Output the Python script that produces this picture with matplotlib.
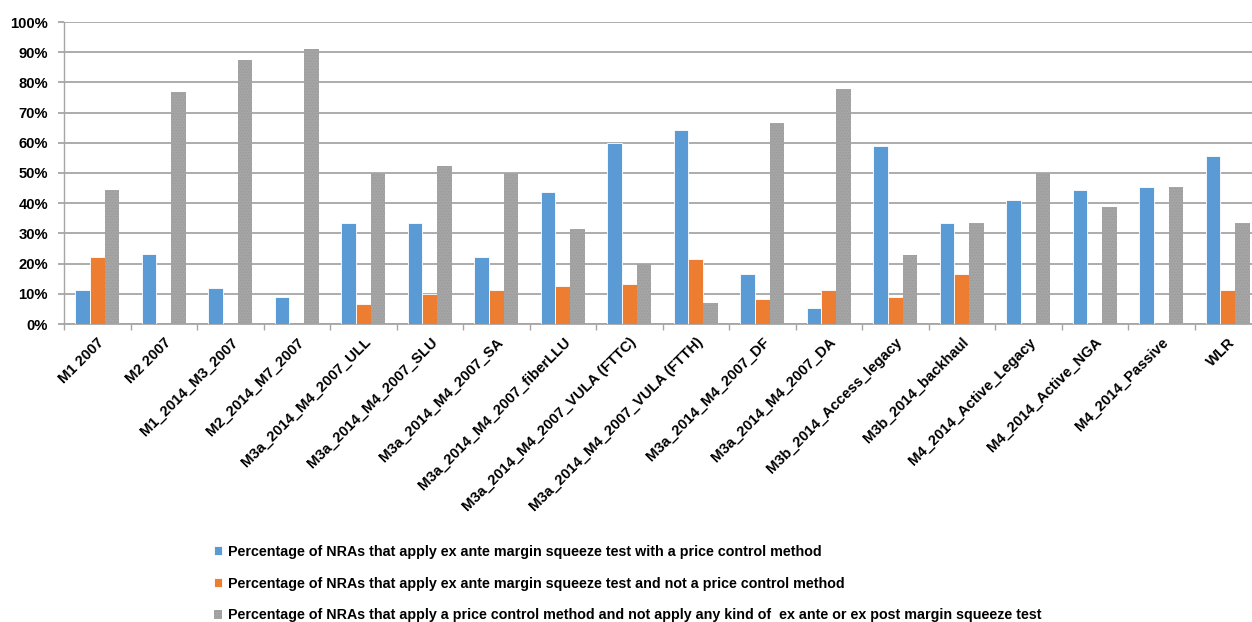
import matplotlib
matplotlib.use("Agg")
import matplotlib.pyplot as plt
import numpy as np
from matplotlib.ticker import PercentFormatter, FixedLocator

categories = [
    "M1 2007", "M2 2007", "M1_2014_M3_2007", "M2_2014_M7_2007",
    "M3a_2014_M4_2007_ULL", "M3a_2014_M4_2007_SLU", "M3a_2014_M4_2007_SA",
    "M3a_2014_M4_2007_fiberLLU", "M3a_2014_M4_2007_VULA (FTTC)",
    "M3a_2014_M4_2007_VULA (FTTH)", "M3a_2014_M4_2007_DF", "M3a_2014_M4_2007_DA",
    "M3b_2014_Access_legacy", "M3b_2014_backhaul", "M4_2014_Active_Legacy",
    "M4_2014_Active_NGA", "M4_2014_Passive", "WLR",
]
with_price_control = [11.1, 23.1, 12.0, 9.1, 33.3, 33.3, 22.2, 43.8, 60.0, 64.3,
                      16.7, 5.3, 59.1, 33.3, 40.9, 44.4, 45.5, 55.6]
without_price_control = [22.2, 0, 0, 0, 6.7, 10.0, 11.1, 12.5, 13.3, 21.4,
                         8.3, 11.1, 9.1, 16.7, 0, 0, 0, 11.1]
no_margin_test = [44.4, 76.9, 87.5, 90.9, 50.0, 52.4, 50.0, 31.3, 20.0, 7.1,
                  66.7, 77.8, 22.7, 33.3, 50.0, 38.9, 45.5, 33.3]
series_labels = [
    "Percentage of NRAs that apply ex ante margin squeeze test with a price control method",
    "Percentage of NRAs that apply ex ante margin squeeze test and not a price control method",
    "Percentage of NRAs that apply a price control method and not apply any kind of  ex ante or ex post margin squeeze test",
]
colors = ["#5B9BD5", "#ED7D31", "#A5A5A5"]

plt.rcParams["font.family"] = ["Liberation Sans", "DejaVu Sans"]
plt.rcParams["hatch.linewidth"] = 0.6

W, H = 1252, 622
fig = plt.figure(figsize=(W / 100, H / 100), dpi=100)
n = len(categories)
group_px = 66.5
ax = fig.add_axes([64 / W, (H - 324) / H, n * group_px / W, 302 / H])

x = np.arange(n)
bw = 0.222
series = [with_price_control, without_price_control, no_margin_test]
for i, (vals, col, lab) in enumerate(zip(series, colors, series_labels)):
    kw = dict(color=col, label=lab, linewidth=0.6, edgecolor="#ffffff", zorder=3)
    if i == 2:
        kw.update(hatch="......", edgecolor="#9a9a9a", linewidth=0)
    ax.bar(x + (i - 1) * bw, vals, bw, **kw)

ax.set_xlim(-0.5, n - 0.5)
ax.set_ylim(0, 100)
ax.yaxis.set_major_locator(FixedLocator(np.arange(0, 101, 10)))
ax.yaxis.set_major_formatter(PercentFormatter(100, decimals=0))
ax.grid(axis="y", color="#a6a6a6", linewidth=1.3, zorder=0)
ax.set_axisbelow(True)
for s in ["top", "right"]:
    ax.spines[s].set_visible(False)
ax.spines["left"].set_color("#a6a6a6")
ax.spines["bottom"].set_color("#a6a6a6")
ax.spines["left"].set_linewidth(1.0)
ax.spines["bottom"].set_linewidth(1.3)

ax.set_xticks(x)
ax.set_xticklabels(categories, rotation=45, ha="right", va="top",
                   rotation_mode="anchor", fontsize=10.6, fontweight="bold")
ax.set_xticks(np.arange(-0.5, n, 1), minor=True)
ax.tick_params(axis="x", which="major", length=0, pad=8)
ax.tick_params(axis="x", which="minor", length=4, color="#a6a6a6", width=1)
ax.tick_params(axis="y", length=4, color="#a6a6a6", width=1.3, pad=7.5,
               labelsize=10.6)
for t in ax.get_yticklabels():
    t.set_fontweight("bold")

leg = fig.legend(loc="upper left", bbox_to_anchor=(201 / W, 1 - 532 / H),
                 frameon=False, ncol=1, handlelength=0.6, handleheight=0.6,
                 handletextpad=0.4, labelspacing=1.24,
                 prop={"size": 10.3, "weight": "bold"})

fig.savefig("out.png", dpi=100)
